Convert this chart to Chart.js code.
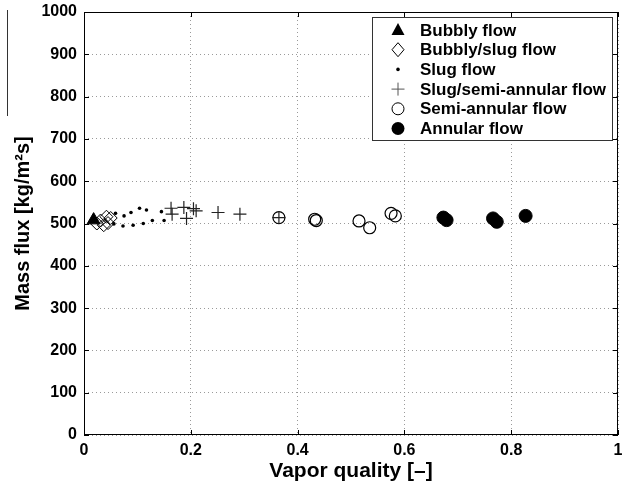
<!DOCTYPE html>
<html>
<head>
<meta charset="utf-8">
<script src="https://cdn.jsdelivr.net/npm/chart.js@4"></script>
<style>
  body { margin: 0; background: #fff; overflow: hidden; }
  #wrap { width: 624px; height: 488px; }
</style>
</head>
<body>
<div id="wrap"><canvas id="chart"></canvas></div>
<script>
// Flow regime data: vapor quality [-] vs mass flux [kg/m2s]
const xTicks = [0, 0.2, 0.4, 0.6, 0.8, 1];
const yTicks = [0, 100, 200, 300, 400, 500, 600, 700, 800, 900, 1000];

const bubblyX = [0.018];
const bubblyY = [508];

const bubblySlugX = [0.024, 0.031, 0.037, 0.042, 0.045, 0.050];
const bubblySlugY = [500, 507, 496, 516, 501, 513];

const slugX = [0.059, 0.056, 0.075, 0.073, 0.088, 0.092, 0.104, 0.111, 0.117, 0.128, 0.145, 0.150];
const slugY = [524, 499, 518, 494, 526, 496, 536, 500, 532, 507, 528, 507];

const slugSemiX = [0.163, 0.165, 0.187, 0.192, 0.205, 0.210, 0.251, 0.292, 0.365];
const slugSemiY = [536, 522, 538, 512, 535, 530, 526, 522, 514];

const semiAnnularX = [0.365, 0.432, 0.435, 0.515, 0.535, 0.575, 0.583];
const semiAnnularY = [514, 510, 507, 506, 490, 524, 518];

const annularX = [0.673, 0.679, 0.766, 0.773, 0.827];
const annularY = [514, 508, 512, 504, 518];

const toPoints = (xs, ys) => xs.map((x, i) => ({ x: x, y: ys[i] }));

const FONT = '"Liberation Sans", Arial, Helvetica, sans-serif';

// legend glyphs, drawn by hand so the box can sit inside the plot
function drawGlyph(ctx, kind, x, y) {
  ctx.save();
  ctx.lineWidth = 1;
  ctx.strokeStyle = '#000';
  ctx.fillStyle = '#000';
  ctx.beginPath();
  if (kind === 'triangle') {
    ctx.moveTo(x, y - 7);
    ctx.lineTo(x + 6.5, y + 5);
    ctx.lineTo(x - 6.5, y + 5);
    ctx.closePath();
    ctx.fill();
  } else if (kind === 'diamond') {
    ctx.moveTo(x, y - 7);
    ctx.lineTo(x + 6, y);
    ctx.lineTo(x, y + 7);
    ctx.lineTo(x - 6, y);
    ctx.closePath();
    ctx.stroke();
  } else if (kind === 'dot') {
    ctx.arc(x, y, 1.8, 0, Math.PI * 2);
    ctx.fill();
  } else if (kind === 'plus') {
    ctx.strokeStyle = '#555';
    ctx.moveTo(x - 6.5, y); ctx.lineTo(x + 6.5, y);
    ctx.moveTo(x, y - 6.5); ctx.lineTo(x, y + 6.5);
    ctx.stroke();
  } else if (kind === 'circle') {
    ctx.arc(x, y, 6, 0, Math.PI * 2);
    ctx.stroke();
  } else if (kind === 'disc') {
    ctx.arc(x, y, 6.5, 0, Math.PI * 2);
    ctx.fill();
  }
  ctx.restore();
}

const framePlugin = {
  id: 'frame',
  afterDraw(chart) {
    const ctx = chart.ctx;
    const a = chart.chartArea;
    const xs = chart.scales.x, ys = chart.scales.y;
    ctx.save();
    // axes box with inward ticks
    ctx.strokeStyle = '#000';
    ctx.lineWidth = 1;
    ctx.strokeRect(a.left + 0.5, a.top + 0.5, a.right - a.left - 1, a.bottom - a.top - 1);
    ctx.beginPath();
    xTicks.forEach(v => {
      const px = Math.round(xs.getPixelForValue(v)) + 0.5;
      ctx.moveTo(px, a.bottom); ctx.lineTo(px, a.bottom - 5);
      ctx.moveTo(px, a.top); ctx.lineTo(px, a.top + 5);
    });
    yTicks.forEach(v => {
      const py = Math.round(ys.getPixelForValue(v)) + 0.5;
      ctx.moveTo(a.left, py); ctx.lineTo(a.left + 5, py);
      ctx.moveTo(a.right, py); ctx.lineTo(a.right - 5, py);
    });
    ctx.stroke();

    // stray line left of the y title in the original
    ctx.strokeStyle = '#333';
    ctx.beginPath();
    ctx.moveTo(7.5, 10); ctx.lineTo(7.5, 116);
    ctx.stroke();

    // legend
    const bx = 372, by = 17, bw = 240, bh = 123;
    ctx.fillStyle = '#fff';
    ctx.fillRect(bx, by, bw, bh);
    ctx.strokeRect(bx + 0.5, by + 0.5, bw, bh);
    ctx.font = 'bold 17px ' + FONT;
    ctx.textBaseline = 'middle';
    ctx.textAlign = 'left';
    chart.data.datasets.forEach((ds, i) => {
      const ry = 30 + i * 19.7;
      drawGlyph(ctx, ds.glyph, 398, ry);
      ctx.fillStyle = '#000';
      ctx.fillText(ds.label, 420, ry + 1);
    });
    ctx.restore();
  }
};

new Chart(document.getElementById('chart'), {
  type: 'scatter',
  data: {
    datasets: [
      {
        label: 'Bubbly flow', glyph: 'triangle',
        data: toPoints(bubblyX, bubblyY),
        pointStyle: 'triangle', pointRadius: 7.5,
        backgroundColor: '#000', borderColor: '#000', borderWidth: 1
      },
      {
        label: 'Bubbly/slug flow', glyph: 'diamond',
        data: toPoints(bubblySlugX, bubblySlugY),
        pointStyle: 'rectRot', pointRadius: 6.5,
        backgroundColor: 'rgba(0,0,0,0)', borderColor: '#000', borderWidth: 1
      },
      {
        label: 'Slug flow', glyph: 'dot',
        data: toPoints(slugX, slugY),
        pointStyle: 'circle', pointRadius: 1.8,
        backgroundColor: '#000', borderColor: '#000', borderWidth: 0
      },
      {
        label: 'Slug/semi-annular flow', glyph: 'plus',
        data: toPoints(slugSemiX, slugSemiY),
        pointStyle: 'cross', pointRadius: 6.5,
        backgroundColor: '#000', borderColor: '#222', borderWidth: 1.2
      },
      {
        label: 'Semi-annular flow', glyph: 'circle',
        data: toPoints(semiAnnularX, semiAnnularY),
        pointStyle: 'circle', pointRadius: 6,
        backgroundColor: 'rgba(0,0,0,0)', borderColor: '#000', borderWidth: 1.2
      },
      {
        label: 'Annular flow', glyph: 'disc',
        data: toPoints(annularX, annularY),
        pointStyle: 'circle', pointRadius: 6.5,
        backgroundColor: '#000', borderColor: '#000', borderWidth: 1
      }
    ]
  },
  options: {
    responsive: true,
    maintainAspectRatio: false,
    animation: false,
    events: [],
    layout: { autoPadding: false, padding: { top: 12, right: 6, left: 0, bottom: 0 } },
    plugins: {
      legend: { display: false },
      tooltip: { enabled: false }
    },
    scales: {
      x: {
        type: 'linear',
        min: 0, max: 1,
        afterBuildTicks: s => { s.ticks = xTicks.map(v => ({ value: v })); },
        afterFit: s => { s.height = 53; s.paddingLeft = 0; s.paddingRight = 0; },
        grid: { color: '#9a9a9a', lineWidth: 1, drawTicks: false },
        border: { display: false, dash: [1, 3] },
        ticks: {
          padding: 6, color: '#000', maxRotation: 0,
          font: { family: FONT, size: 16, weight: 'bold' },
          callback: v => String(v)
        },
        title: {
          display: true, text: 'Vapor quality [\u2013]', color: '#000',
          font: { family: FONT, size: 21, weight: 'bold' },
          padding: { top: 0, bottom: 4 }
        }
      },
      y: {
        type: 'linear',
        min: 0, max: 1000,
        afterBuildTicks: s => { s.ticks = yTicks.map(v => ({ value: v })); },
        afterFit: s => { s.width = 84; s.paddingTop = 0; s.paddingBottom = 0; },
        grid: { color: '#9a9a9a', lineWidth: 1, drawTicks: false },
        border: { display: false, dash: [1, 3] },
        ticks: {
          padding: 7, color: '#000',
          font: { family: FONT, size: 16, weight: 'bold' },
          callback: v => String(v)
        },
        title: {
          display: true, text: 'Mass flux [kg/m\u00b2s]', color: '#000',
          font: { family: FONT, size: 20, weight: 'bold' },
          padding: { top: 11, bottom: 0 }
        }
      }
    }
  },
  plugins: [framePlugin]
});
</script>
</body>
</html>
